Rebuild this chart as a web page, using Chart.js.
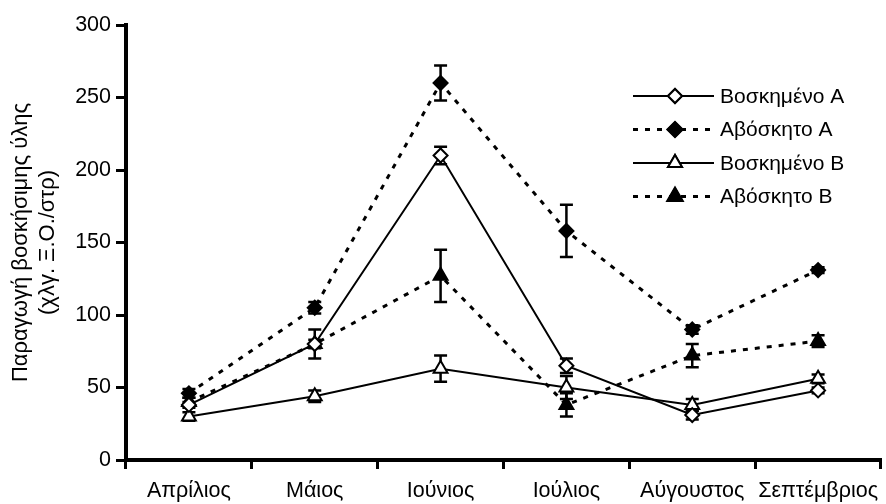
<!DOCTYPE html>
<html>
<head>
<meta charset="utf-8">
<script src="https://cdn.jsdelivr.net/npm/chart.js@4.4.1/dist/chart.umd.min.js"></script>
<style>
  html, body { margin: 0; padding: 0; overflow: hidden; background: #fff; }
  .chart-container { position: relative; width: 891px; height: 504px; }
</style>
</head>
<body>
<div class="chart-container">
  <canvas id="myChart"></canvas>
</div>
<script>
// dados
var months = ['Απρίλιος', 'Μάιος', 'Ιούνιος', 'Ιούλιος', 'Αύγουστος', 'Σεπτέμβριος'];
var seriesNames = ['Βοσκημένο Α', 'Αβόσκητο Α', 'Βοσκημένο Β', 'Αβόσκητο Β'];

var boskA = [38, 80, 210, 65, 31, 48];
var aboskA = [46, 105, 260, 158, 90, 131];
var boskB = [30, 44, 63, 50, 38, 56];
var aboskB = [40, 80, 127, 38, 72, 82];

// erro padrão (±)
var boskAErr = [2, 10, 6, 5, 3, 2];
var aboskAErr = [3, 4, 12, 18, 3, 2];
var boskBErr = [3, 4, 9, 8, 4, 3];
var aboskBErr = [3, 3, 18, 8, 8, 4];

var yTicks = [0, 50, 100, 150, 200, 250, 300];

var FONT = 'Liberation Sans, Arial, sans-serif';
var DASH = [5, 7];

function makeSet(label, values, errs, style, filled, dashed) {
  return {
    label: label,
    data: values,
    errors: errs,
    borderColor: '#000',
    borderWidth: dashed ? 3 : 2,
    borderDash: dashed ? DASH : [],
    pointStyle: style,
    pointRadius: style === 'triangle' ? 8 : 7,
    pointHoverRadius: style === 'triangle' ? 8 : 7,
    pointBackgroundColor: filled ? '#000' : '#fff',
    pointBorderColor: '#000',
    pointBorderWidth: 2,
    fill: false,
    tension: 0
  };
}

var datasets = [
  makeSet(seriesNames[0], boskA, boskAErr, 'rectRot', false, false),
  makeSet(seriesNames[1], aboskA, aboskAErr, 'rectRot', true, true),
  makeSet(seriesNames[2], boskB, boskBErr, 'triangle', false, false),
  makeSet(seriesNames[3], aboskB, aboskBErr, 'triangle', true, true)
];

// barras de erro desenhadas pelas escalas do Chart.js
var errorBars = {
  id: 'errorBars',
  beforeDatasetsDraw: function(chart) {
    var ctx = chart.ctx;
    var xs = chart.scales.x, ys = chart.scales.y;
    ctx.save();
    ctx.strokeStyle = '#000';
    ctx.lineWidth = 2.5;
    ctx.setLineDash([]);
    chart.data.datasets.forEach(function(ds) {
      ds.data.forEach(function(v, i) {
        var e = ds.errors[i];
        if (!e) return;
        var x = xs.getPixelForValue(i);
        var yT = ys.getPixelForValue(v + e);
        var yB = ys.getPixelForValue(v - e);
        ctx.beginPath();
        ctx.moveTo(x, yT); ctx.lineTo(x, yB);
        ctx.moveTo(x - 6.5, yT); ctx.lineTo(x + 6.5, yT);
        ctx.moveTo(x - 6.5, yB); ctx.lineTo(x + 6.5, yB);
        ctx.stroke();
      });
    });
    ctx.restore();
  }
};

// legenda à direita, linha com marcador no meio
var customLegend = {
  id: 'customLegend',
  afterDraw: function(chart) {
    var ctx = chart.ctx;
    var x0 = 633, x1 = 714, xm = 675, xt = 720;
    var rows = [96, 129.5, 163, 196.5];
    ctx.save();
    chart.data.datasets.forEach(function(ds, i) {
      var y = rows[i];
      ctx.strokeStyle = '#000';
      ctx.lineWidth = ds.borderWidth;
      ctx.setLineDash(ds.borderDash);
      ctx.beginPath();
      ctx.moveTo(x0, y); ctx.lineTo(x1, y);
      ctx.stroke();
      ctx.setLineDash([]);
      Chart.helpers.drawPoint(ctx, {
        pointStyle: ds.pointStyle,
        radius: ds.pointRadius,
        borderWidth: 2
      }, xm, y);
      ctx.fillStyle = ds.pointBackgroundColor;
      ctx.strokeStyle = '#000';
      ctx.lineWidth = 2;
      ctx.fill();
      ctx.stroke();
      ctx.fillStyle = '#000';
      ctx.font = '21px ' + FONT;
      ctx.textBaseline = 'middle';
      ctx.textAlign = 'left';
      ctx.fillText(ds.label, xt, y + 1);
    });
    ctx.restore();
  }
};

var ctx = document.getElementById('myChart').getContext('2d');
new Chart(ctx, {
  type: 'line',
  data: { labels: months, datasets: datasets },
  plugins: [errorBars, customLegend],
  options: {
    responsive: true,
    maintainAspectRatio: false,
    animation: false,
    layout: { padding: { top: 25, left: 0, right: 0, bottom: 0 } },
    plugins: {
      legend: { display: false },
      tooltip: { enabled: false }
    },
    scales: {
      x: {
        type: 'category',
        offset: true,
        grid: { offset: true, drawOnChartArea: false, drawTicks: true, tickLength: 9, tickWidth: 3, tickColor: '#000' },
        border: { color: '#000', width: 4 },
        ticks: { color: '#000', font: { family: FONT, size: 21.5 }, padding: 9, maxRotation: 0, autoSkip: false },
        afterFit: function(s) { s.height = 44; }
      },
      y: {
        min: 0,
        max: 300,
        afterBuildTicks: function(s) { s.ticks = yTicks.map(function(v) { return { value: v }; }); },
        grid: { drawOnChartArea: false, drawTicks: true, tickLength: 10, tickWidth: 3, tickColor: '#000' },
        border: { color: '#000', width: 4 },
        ticks: { color: '#000', font: { family: FONT, size: 21.5 }, padding: 5 },
        title: {
          display: true,
          text: ['Παραγωγή βοσκήσιμης ύλης', '(χλγ. Ξ.Ο./στρ)'],
          color: '#000',
          font: { family: FONT, size: 22, lineHeight: 1.2 },
          padding: { top: 8, bottom: 0 }
        },
        afterFit: function(s) { s.width = 126; }
      }
    }
  }
});
</script>
</body>
</html>
